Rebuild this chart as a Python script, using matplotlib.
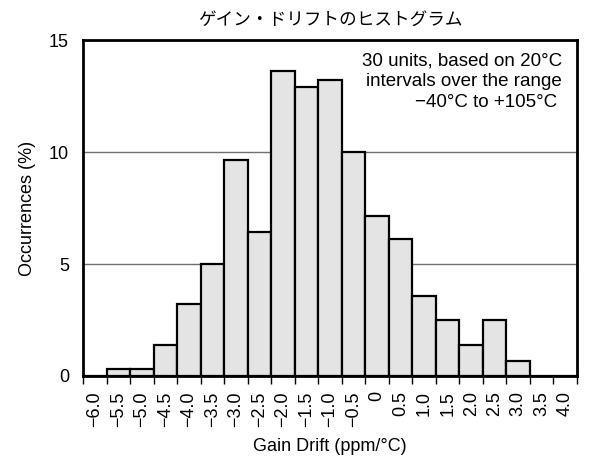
import numpy as np
import matplotlib.pyplot as plt

plt.rcParams['font.family'] = ['Liberation Sans', 'Noto Sans CJK JP', 'DejaVu Sans']

# histogram bins (ppm/°C), labelled at bin centre
bin_labels = ['−6.0', '−5.5', '−5.0', '−4.5', '−4.0', '−3.5', '−3.0', '−2.5',
              '−2.0', '−1.5', '−1.0', '−0.5', '0', '0.5', '1.0', '1.5',
              '2.0', '2.5', '3.0', '3.5', '4.0']
bin_centers = np.arange(-6.0, 4.01, 0.5)
occurrences = [0, 0.33, 0.33, 1.38, 3.2, 5.0, 9.65, 6.45, 13.6, 12.9, 13.2,
               10.0, 7.15, 6.1, 3.55, 2.5, 1.4, 2.5, 0.67, 0, 0]

fig = plt.figure(figsize=(5.9, 4.61), dpi=100)
ax = fig.add_axes([0.1407, 0.1844, 0.8373, 0.7286])

ax.bar(bin_centers, occurrences, width=0.5, color='#e4e4e4',
       edgecolor='black', linewidth=1.6, zorder=3)

ax.set_xlim(-6.25, 4.25)
ax.set_ylim(0, 15)
ax.set_yticks([0, 5, 10, 15])
ax.yaxis.grid(True, color='#707070', linewidth=1.0, zorder=0)

# tick marks at bin edges, labels under bin centres
edges = np.arange(-6.25, 4.26, 0.5)
ax.set_xticks(edges)
ax.set_xticklabels([])
ax.set_xticks(bin_centers, minor=True)
ax.set_xticklabels(bin_labels, minor=True, rotation=90)
ax.tick_params(axis='x', which='major', direction='out', length=6, width=1)
ax.tick_params(axis='x', which='minor', length=0, labelsize=13, pad=11)
ax.tick_params(axis='y', length=0, labelsize=13, pad=10)

for s in ax.spines.values():
    s.set_linewidth(2)
    s.set_zorder(4)

ax.set_xlabel('Gain Drift (ppm/°C)', fontsize=13, labelpad=8)
ax.set_ylabel('Occurrences (%)', fontsize=13, labelpad=9)
ax.set_title('ゲイン・ドリフトのヒストグラム', fontsize=12.7, pad=11,
             family=['Noto Sans CJK JP', 'DejaVu Sans'])

ax.text(0.97, 0.962, '30 units, based on 20°C\nintervals over the range\n−40°C to +105°C ',
        transform=ax.transAxes, ha='right', va='top', fontsize=13.5,
        linespacing=1.27, zorder=5)

fig.savefig('out.png', dpi=100)
